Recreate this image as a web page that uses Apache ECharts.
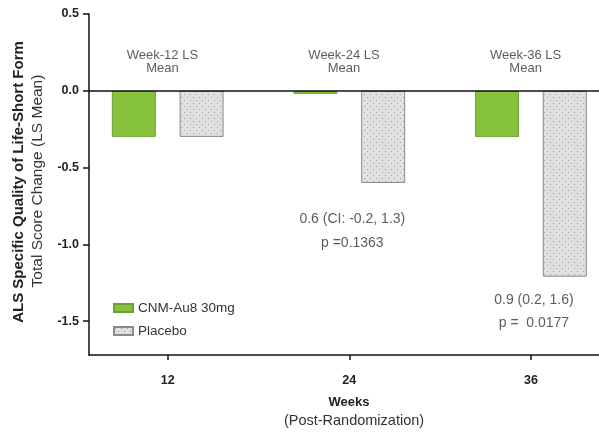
<!DOCTYPE html>
<html>
<head>
<meta charset="utf-8">
<script src="https://cdn.jsdelivr.net/npm/echarts@6/dist/echarts.min.js"></script>
<style>
  html, body { margin: 0; padding: 0; background: #fff; }
  #chart { width: 599px; height: 433px; }
</style>
</head>
<body>
<div id="chart"></div>
<script>
// Weeks after randomization and LS mean change per arm
const weeks = [12, 24, 36];
const activeMean = [-0.30, -0.02, -0.30];
const placeboMean = [-0.30, -0.60, -1.21];
const seriesNames = ['CNM-Au8 30mg', 'Placebo'];
const yTicks = [0.5, 0.0, -0.5, -1.0, -1.5];

// Header over each visit and treatment-difference notes
const headerText = ['Week-12 LS\nMean', 'Week-24 LS\nMean', 'Week-36 LS\nMean'];
const headerY = 0.19;
const diffNotes = [
  { week: 24, y: -0.835, text: '0.6 (CI: -0.2, 1.3)' },
  { week: 24, y: -0.99, text: 'p =0.1363' },
  { week: 36, y: -1.36, text: '0.9 (0.2, 1.6)' },
  { week: 36, y: -1.51, text: 'p =  0.0177' }
];

// Dotted fill used for the placebo bars
function dotPattern() {
  const c = document.createElement('canvas');
  c.width = 6; c.height = 6;
  const g = c.getContext('2d');
  g.fillStyle = '#e0e0e0';
  g.fillRect(0, 0, 6, 6);
  g.fillStyle = '#a3a3a3';
  g.fillRect(1, 1, 1, 1);
  g.fillRect(4, 4, 1, 1);
  return c;
}

const FONT = '"Liberation Sans", Arial, Helvetica, sans-serif';
const chart = echarts.init(document.getElementById('chart'), null, { renderer: 'canvas' });

const option = {
  backgroundColor: '#ffffff',
  animation: false,
  textStyle: { fontFamily: FONT },
  grid: { left: 89, right: 0, top: 14, bottom: 78 },
  legend: {
    data: seriesNames,
    orient: 'vertical',
    left: 108,
    top: 296,
    icon: 'rect',
    itemWidth: 19,
    itemHeight: 8,
    itemGap: 9,
    textStyle: { fontFamily: FONT, fontSize: 13.5, color: '#333' }
  },
  xAxis: {
    type: 'value',
    min: 6.8,
    max: 40.5,
    splitLine: { show: false },
    axisLine: { show: true, onZero: false, lineStyle: { color: '#111', width: 1.5 } },
    axisTick: { show: true, customValues: weeks, length: 5, lineStyle: { color: '#111', width: 1.5 } },
    axisLabel: {
      customValues: weeks,
      margin: 19,
      fontFamily: FONT, fontSize: 12.5, fontWeight: 'bold', color: '#222'
    }
  },
  yAxis: {
    type: 'value',
    min: -1.72,
    max: 0.5,
    splitLine: { show: false },
    axisLine: { show: true, lineStyle: { color: '#111', width: 1.5 } },
    axisTick: { show: true, customValues: yTicks, length: 6, lineStyle: { color: '#111', width: 1.5 } },
    axisLabel: {
      customValues: yTicks,
      margin: 10,
      formatter: v => v.toFixed(1),
      fontFamily: FONT, fontSize: 12.5, fontWeight: 'bold', color: '#222'
    }
  },
  graphic: [
    {
      type: 'text', rotation: Math.PI / 2, x: 19, y: 182,
      style: {
        text: 'ALS Specific Quality of Life-Short Form',
        font: 'bold 15px ' + FONT, fill: '#222',
        align: 'center', verticalAlign: 'middle'
      }
    },
    {
      type: 'text', rotation: Math.PI / 2, x: 38, y: 181,
      style: {
        text: 'Total Score Change (LS Mean)',
        font: '15.5px ' + FONT, fill: '#333',
        align: 'center', verticalAlign: 'middle'
      }
    },
    {
      type: 'text', x: 349, y: 402,
      style: {
        text: 'Weeks', font: 'bold 13px ' + FONT, fill: '#222',
        align: 'center', verticalAlign: 'middle'
      }
    },
    {
      type: 'text', x: 354, y: 421,
      style: {
        text: '(Post-Randomization)', font: '14.5px ' + FONT, fill: '#333',
        align: 'center', verticalAlign: 'middle'
      }
    }
  ],
  series: [
    {
      name: seriesNames[0],
      type: 'bar',
      barWidth: 44,
      barGap: '54%',
      data: weeks.map((w, i) => [w, activeMean[i]]),
      itemStyle: { color: '#86c23c', borderColor: '#6e9e35', borderWidth: 1 },
      markLine: {
        silent: true,
        symbol: 'none',
        label: { show: false },
        lineStyle: { color: '#111', width: 1.5, type: 'solid' },
        data: [{ yAxis: 0 }]
      }
    },
    {
      name: seriesNames[1],
      type: 'bar',
      barWidth: 44,
      barGap: '54%',
      data: weeks.map((w, i) => [w, placeboMean[i]]),
      itemStyle: {
        color: { image: dotPattern(), repeat: 'repeat' },
        borderColor: '#8a8a8a', borderWidth: 1
      }
    },
    {
      name: 'headers',
      type: 'scatter',
      symbolSize: 0,
      silent: true,
      data: weeks.map((w, i) => ({ value: [w - 0.35, headerY], label: { formatter: headerText[i] } })),
      label: {
        show: true, position: 'inside',
        fontFamily: FONT, fontSize: 13, lineHeight: 13, color: '#333', align: 'center'
      }
    },
    {
      name: 'notes',
      type: 'scatter',
      symbolSize: 0,
      silent: true,
      data: diffNotes.map(n => ({ value: [n.week + 0.2, n.y], label: { formatter: n.text } })),
      label: {
        show: true, position: 'inside',
        fontFamily: FONT, fontSize: 14, color: '#333'
      }
    }
  ]
};

chart.setOption(option);
</script>
</body>
</html>
